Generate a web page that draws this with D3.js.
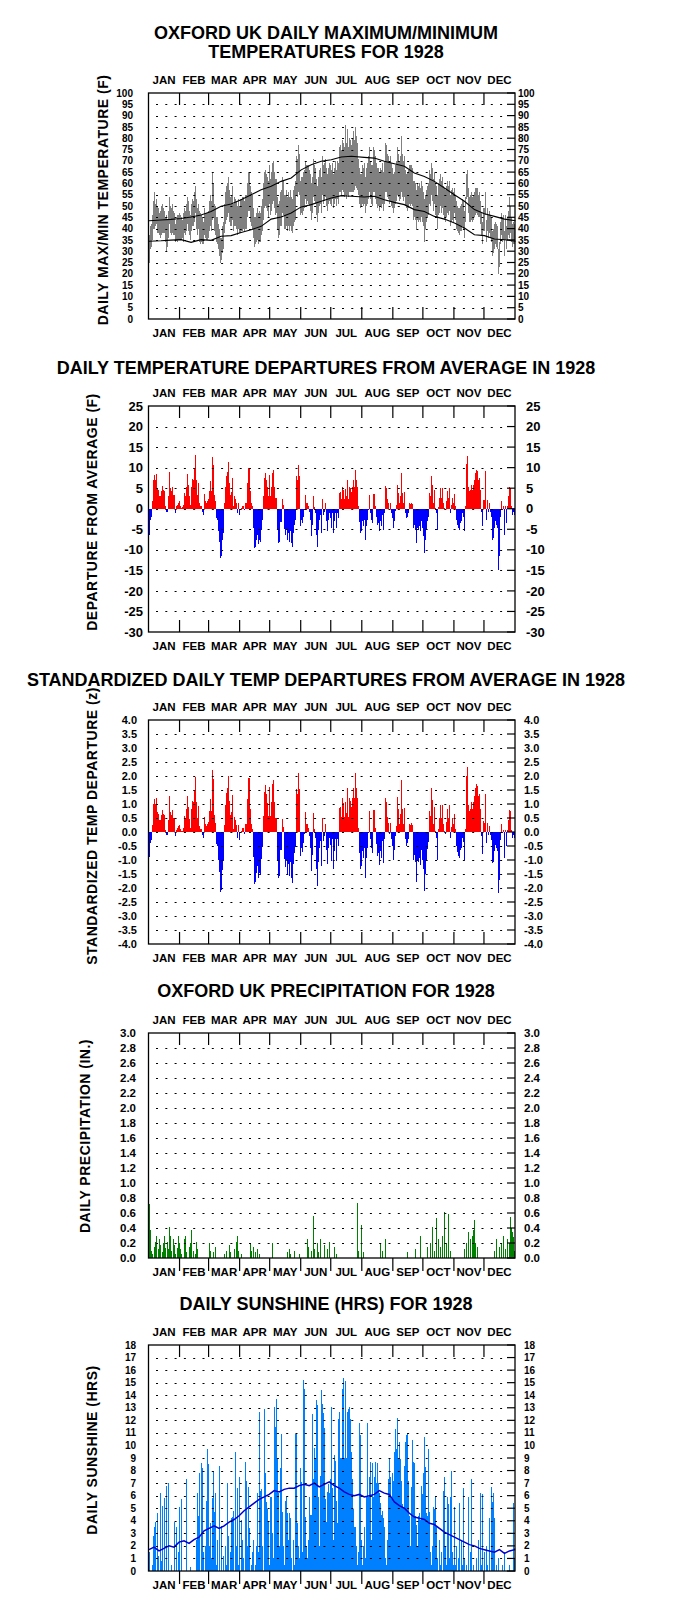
<!DOCTYPE html>
<html>
<head>
<meta charset="utf-8">
<script src="https://cdn.jsdelivr.net/npm/d3@7"></script>
<style>
  body { margin: 0; background: #fff; }
  text { font-family: Arial, "Liberation Sans", sans-serif; font-weight: bold; fill: #000; }
  .bars rect, .bars line { shape-rendering: crispEdges; }
</style>
</head>
<body>
<script>

// ---- data (1928, day 0 = Jan 1) ----
var months = ['JAN','FEB','MAR','APR','MAY','JUN','JUL','AUG','SEP','OCT','NOV','DEC'];
var monthStart = [0,31,60,91,121,152,182,213,244,274,305,335,366];

var tmax = [
 37,41,42,46,52,56,51,53,50,49,47,48,50,51,49,48,45,46,44,48,54,50,49,51,48,47,42,44,46,46,47,
 46,45,44,47,49,48,51,54,52,48,46,51,53,52,56,59,53,49,51,48,47,46,45,43,49,47,47,47,48,
 52,55,52,65,60,51,50,45,45,42,40,36,36,41,43,51,56,59,60,63,57,54,55,59,51,54,53,52,50,53,50,
 53,53,54,54,52,55,55,60,65,65,59,56,55,49,45,45,47,49,47,48,47,50,53,60,65,66,64,63,61,68,
 62,65,69,70,65,62,62,54,51,52,56,57,63,61,55,55,57,54,56,54,57,54,53,57,59,61,72,71,77,73,61,
 63,63,65,66,70,68,68,68,66,64,60,63,71,68,67,62,59,63,66,67,63,72,68,69,71,67,64,67,69,68,
 66,69,64,67,70,66,70,69,76,77,75,79,78,76,86,78,84,76,80,79,77,80,83,79,85,81,78,71,67,64,64,
 68,67,69,63,67,69,72,76,70,68,68,76,75,72,69,67,67,65,67,66,69,65,70,78,77,73,72,70,72,69,67,
 64,65,68,70,76,73,70,72,81,73,70,72,66,64,65,66,68,68,68,67,61,61,60,57,60,59,60,58,61,59,
 56,53,55,57,59,60,66,64,69,67,62,65,60,59,55,60,62,64,61,63,59,58,57,59,61,59,61,55,57,58,56,
 58,55,52,50,49,49,50,51,53,52,48,54,64,66,58,54,55,56,54,55,56,58,58,58,55,56,52,47,43,49,
 49,56,44,49,46,48,46,45,39,40,42,43,42,41,31,34,43,47,45,46,39,46,41,45,48,54,50,45,42,43,42
];
var tmin = [
 25,31,32,35,40,40,41,42,38,38,37,36,37,38,38,38,34,30,32,36,42,38,37,38,37,37,34,35,34,35,35,
 35,35,36,34,38,37,39,42,39,37,35,39,41,41,43,47,40,37,40,34,33,34,33,33,37,36,35,35,36,
 39,41,39,44,45,39,37,34,33,31,28,25,26,29,31,38,42,44,45,47,43,41,41,44,39,41,41,40,37,40,38,
 38,39,39,40,39,40,40,45,48,48,43,41,40,36,32,33,34,35,33,34,34,37,39,44,49,50,49,48,45,51,
 46,48,51,52,49,46,47,40,36,37,41,41,47,46,40,40,41,39,41,39,41,39,38,41,43,44,55,54,56,55,46,
 47,46,48,49,53,51,52,51,50,48,44,47,54,52,51,46,43,47,50,51,47,55,51,52,54,50,48,51,52,51,
 50,53,49,51,53,50,53,51,56,56,55,57,56,54,55,53,55,54,56,56,56,56,56,57,59,58,57,55,51,49,50,
 51,50,51,47,50,51,53,56,53,51,50,56,56,53,51,49,50,48,50,49,51,48,51,56,56,54,53,51,52,50,49,
 47,49,51,52,55,54,52,53,56,54,52,54,50,49,48,49,51,50,51,50,44,45,44,40,44,43,44,43,45,43,
 41,34,40,43,45,46,51,50,55,52,48,51,46,45,40,46,47,50,47,49,46,44,43,45,47,46,48,41,43,44,43,
 47,44,40,39,38,37,39,39,41,40,36,43,53,54,47,43,43,44,43,44,45,46,47,46,45,45,42,37,33,39,
 39,46,34,39,36,38,36,34,28,29,31,33,32,31,20,23,33,37,34,35,28,35,31,35,37,36,38,34,32,33,33
];

// long-term average max / min (black curves)
var normDays = [0,12,22,32,42,52,62,72,82,92,102,112,122,132,142,152,162,172,182,192,202,215,225,235,245,255,265,275,285,295,305,315,325,335,345,355,366];
var normMax  = [43.5,43.8,44.1,44.5,45.1,46.0,47.6,49.9,50.9,52.8,55.0,57.2,58.7,60.9,62.4,66.0,68.3,69.8,70.5,71.7,72.0,71.5,71.2,69.8,68.7,67.6,64.6,63.1,60.9,58.0,55.0,52.1,48.4,46.6,45.4,44.2,43.5];
var normMin  = [34.4,34.6,34.9,35.1,33.9,35.1,34.8,36.6,36.9,38.3,39.5,41.0,44.2,45.1,46.9,49.6,50.6,52.1,53.5,54.6,54.3,54.0,54.3,52.8,51.6,50.6,48.4,47.6,45.4,44.2,42.5,40.3,37.3,36.9,35.4,35.1,34.4];

// daily mean temperature departure from average (F)
var tempDep = [
 -6.3,-2.7,-1.9,1.8,7,8.3,7,8.5,5,4.6,3,3,4.2,5.6,4.6,4.2,0.6,-0.7,-0.7,3,9,5,4.2,5.4,3.4,3.4,-1.1,0.6,1,1.5,1.8,
 0.7,0.2,0.3,1,3.8,3,5.4,8.5,5.8,3,1,5.4,7.3,7,10,13,7,3.4,6.2,1.4,0.7,0.7,-0.7,-1.5,3.6,1.8,1.5,1.8,2.4,
 4.2,6.7,4.2,12.5,10.7,3.4,1.8,-2.3,-2.7,-5.5,-8,-12,-11.6,-7.6,-5.8,1.4,5.4,7.9,8.9,11.3,6.2,3.4,4,7.5,0.6,3,2.4,1.4,-1.1,1.4,-1.5,
 -0.2,0.2,0.7,0.7,-0.4,1.4,1.5,6.2,10,10,4.2,1.4,0.6,-4.7,-9.6,-9.2,-7.6,-6.3,-8.5,-7.6,-8,-5.1,-2.7,3,7.5,8.7,7,5.4,3,8.3,
 3,5.4,8.7,9.5,5.4,2.6,2.6,-5.1,-8.4,-8,-3.3,-3.3,2.4,1,-5,-6.3,-5.1,-7.6,-5.9,-8,-5.5,-8.4,-9.2,-5.9,-3.9,-2.7,7.9,7,10.7,7.9,-4.3,
 -2.7,-3.5,-1.9,-0.4,3.4,1.4,1.4,0.7,-0.7,-2.7,-6.7,-3.9,3.2,0.5,-1.1,-6.3,-9.2,-5.1,-2.7,-1.5,-5.9,2.4,-1.5,-0.7,1.4,-3.1,-5.5,-2.7,-1.1,-2.3,
 -4.7,-1.1,-5.9,-3.1,-1.1,-4.7,-1.1,-2.3,3.8,4,2.4,5.4,4.6,2.4,4.8,3,7,2.4,5.4,5,4,5.4,7,5.4,9.5,7,5.4,0.6,-3.3,-5.9,-5.5,
 -3.1,-4.3,-2.7,-7.6,-4.3,-2.7,-0.2,3.4,-1.1,-2.7,-3.5,3.6,3.6,0.6,-1.9,-3.9,-3.5,-5.5,-3.1,-4.3,-1.5,-5.1,-1.1,5.6,5,2.4,1.4,-0.4,1.4,-1.1,-2.3,
 -4.7,-3.1,-0.6,1,5.8,3.8,1.4,3,8.7,3.8,1.4,4,-1.1,-2.3,-1.9,-1.1,1.4,1.2,1.5,1.1,-4.7,-3.9,-5.1,-8.4,-4.7,-5.1,-4.3,-5.5,-3.1,-4.7,
 -6.7,-10.8,-7.6,-5.1,-3.1,-1.9,3.8,3,8,5.8,1.4,4.6,0.2,-1.1,-5.1,0.5,2.6,5,2.6,5,1.4,0.2,-0.4,1.8,4.2,2.6,5,-1.1,1,2.6,1.4,
 3.6,0.6,-2.7,-3.9,-4.7,-5.1,-3.5,-3.1,-1.1,-1.9,-5.5,0.6,11,12.8,5.4,4.2,4.6,5.8,4.6,5.8,7,8.7,9.5,9.1,7,7.5,4.6,-0.7,-4.3,2.2,
 2.2,9.3,-2.7,2.2,-0.7,1.4,-0.7,-1.9,-7.6,-7.2,-4.7,-3.1,-3.9,-4.7,-14.9,-11.6,-1.9,2,-0.2,0.6,-6.3,0.6,-3.5,0.6,3,5.4,5,0.6,-1.5,-0.7,-1.5
];
// standard deviation of daily departures by month, used for the z panel
var depSD = [7.0,6.6,5.6,5.2,5.1,4.8,4.5,4.6,4.7,5.1,5.5,6.8];

// precipitation (in.), only wet days listed
var precipDays = [0,1,2,3,5,6,7,9,10,11,13,14,15,16,18,19,20,21,22,24,25,26,28,29,30,
 31,32,35,36,37,40,41,42,44,46,47,48,
 60,61,64,66,75,77,80,81,85,87,88,89,92,
 101,102,104,106,108,110,123,138,140,141,145,150,
 158,159,162,164,165,168,169,171,175,178,180,185,187,
 208,209,212,214,231,233,236,258,266,271,
 278,281,283,285,287,289,291,293,295,297,299,301,
 315,317,319,321,323,324,325,326,328,
 345,347,350,352,354,356,358,360,361,362,363,364,365];
var precipVals = [0.72,0.38,0.1,0.05,0.15,0.22,0.3,0.12,0.25,0.18,0.08,0.2,0.3,0.14,0.22,0.12,0.42,0.3,0.1,0.25,0.18,0.05,0.14,0.3,0.2,
 0.12,0.05,0.25,0.3,0.08,0.15,0.2,0.38,0.1,0.05,0.22,0.12,
 0.2,0.1,0.08,0.15,0.05,0.1,0.18,0.08,0.12,0.22,0.3,0.1,0.05,
 0.2,0.1,0.15,0.08,0.12,0.05,0.2,0.08,0.12,0.05,0.1,0.06,
 0.25,0.15,0.1,0.56,0.12,0.2,0.08,0.25,0.18,0.12,0.22,0.15,0.05,
 0.74,0.1,0.44,0.08,0.2,0.1,0.25,0.08,0.12,0.3,
 0.15,0.2,0.42,0.1,0.53,0.25,0.15,0.3,0.61,0.2,0.59,0.1,
 0.12,0.2,0.35,0.25,0.3,0.38,0.51,0.2,0.15,
 0.1,0.25,0.15,0.2,0.3,0.12,0.25,0.2,0.55,0.4,0.35,0.28,0.1];

// daily sunshine (hrs)
var sunHrs = [
 1.5,0,0,0.5,2.8,3.5,3.9,0,4.6,1.2,0,6.2,0.8,5.2,0,5.8,0,6.8,0,7.0,0,0,0.5,0,0,3.9,0,3.5,0,1.5,5.1,
 0,5.7,0,0,0,0,7.3,0,0,0,0.3,0,0,0,0,0,2.5,6.2,4.4,7.8,0,8.6,8.2,1.5,0,2.0,5.6,9.7,8.5,
 2.0,3.8,1.0,5.8,8.0,4.7,6.2,0.5,2.5,0,8.4,0,3.6,0,1.2,0,2.0,0.5,7.0,2.8,0,1.5,4.2,4.3,4.8,0,9.5,2.0,6.6,0.5,7.5,
 0,4.1,2.5,1.0,0,8.7,7.2,2.0,6.7,3.4,0,0.5,1.5,2.5,0,0.5,2.0,6.2,1.5,12.7,6.4,6.5,2.0,0,12.9,7.8,5.5,4.9,4.0,0.5,
 5.9,5.9,3.0,1.0,13.1,11.5,13.7,9.0,6.2,2.0,8.2,10.9,4.7,2.0,0.5,5.6,5.9,4.6,2.5,4.6,4.2,1.0,0,2.5,0.5,10.9,10.9,3.8,2.0,1.0,8.2,
 7.1,1.5,15.2,14.5,4.3,2.0,1.0,2.5,5.9,4.5,4.5,12.5,7.3,9.8,9.0,13.6,13.2,5.9,2.0,7.6,14.4,13.3,12.6,11.4,5.7,3.9,6.3,6.9,6.2,7.3,
 13.1,6.6,2.5,9.2,8.8,5.6,3.8,12.1,12.7,9.0,9.0,14.5,15.4,9.0,15.1,9.0,12.7,12.9,13.1,12.1,9.5,7.3,4.9,3.5,3.5,2.0,0.5,1.5,11.8,10.8,2.5,
 0.5,2.0,3.5,1.0,5.9,11.8,5.9,7.5,8.7,2.5,8.6,5.9,7.5,8.7,7.0,8.6,7.0,6.2,5.4,4.5,4.8,4.2,3.5,1.0,0.5,2.5,7.3,8.9,7.5,5.7,7.8,
 7.2,9.5,11.3,9.7,12.2,9.0,10.3,8.9,7.2,5.3,5.0,8.4,10.3,10.8,11.0,7.2,4.4,2.0,6.7,10.4,8.7,8.6,4.4,3.7,2.0,4.4,4.6,4.1,6.8,6.1,
 7.8,10.7,8.3,4.6,4.4,9.7,4.7,1.5,0.5,2.0,5.1,4.9,5.9,3.5,1.0,0,2.5,0.5,1.5,0,6.4,7.5,2.0,0.5,5.9,5.3,1.0,5.9,8.0,1.5,0.5,
 5.1,0.5,2.0,0,1.0,5.4,0,2.5,0.5,6.6,1.0,0,0.5,0,5.9,0,1.5,7.3,0,0.5,0,0,1.0,0,2.5,0,6.2,0.5,6.1,0,
 1.5,0,2.0,0.5,0,4.2,0,6.7,5.5,6.2,4.2,0,0.5,0,1.0,0,0,0,0.5,0,1.5,0,0,0,0,0.5,0,0,0,5.4,1.0
];
// average sunshine (blue line), every 5 days
var sunAvgDays = d3.range(0, 366, 5).concat([365]);
var sunAvg = [1.7,1.9,1.6,1.8,2.0,1.9,2.3,2.4,2.2,2.5,2.7,3.2,3.4,3.6,3.4,3.6,3.9,4.1,4.4,4.8,5.1,5.4,5.7,5.9,6.1,6.4,6.3,6.5,6.6,6.6,
 6.8,6.9,6.8,7.0,6.7,6.9,7.1,6.8,6.6,6.3,6.1,6.0,6.1,5.9,6.0,6.1,6.4,6.2,6.1,5.5,5.2,5.0,4.6,4.3,4.2,4.1,3.8,3.7,3.4,3.1,
 2.9,2.7,2.5,2.3,2.1,2.0,1.8,1.7,1.6,1.5,1.7,1.4,1.6,1.7,1.8];

// ---- layout ----
var W = 678, H = 1622;
var svg = d3.select('body').append('svg').attr('width', W).attr('height', H);
var x = d3.scaleLinear().domain([0, 366]).range([148.5, 515]);
var L = 148.5, R = 515, TITLE_X = 326;

function fmt(v, dec) { return dec ? v.toFixed(dec) : String(Math.round(v)); }

var drawPanel = function(p) {
    var y = d3.scaleLinear().domain([p.lo, p.hi]).range([p.bottom, p.top]);
    var marks = svg.append('g').attr('class', 'bars');
    var g = svg.append('g');

    p.titles.forEach(function(t, i) {
        g.append('text').attr('x', TITLE_X).attr('y', p.titleY + i * 18.5)
          .attr('text-anchor', 'middle').style('font-size', '18px').text(t);
    });

    g.append('text')
      .attr('transform', 'translate(' + p.ytX + ',' + p.ytY + ') rotate(-90)')
      .attr('text-anchor', 'middle').style('font-size', '14px').style('letter-spacing', '0.5px')
      .text(p.ytitle);

    // month names top and bottom
    [p.top - 9, p.bottom + 18].forEach(function(yy) {
        g.selectAll(null).data(months).enter().append('text')
          .attr('x', function(d, i) { return x((monthStart[i] + monthStart[i + 1]) / 2); })
          .attr('y', yy).attr('text-anchor', 'middle').style('font-size', '11.5px')
          .text(function(d) { return d; });
    });

    var n = Math.round((p.hi - p.lo) / p.step);
    var ticks = d3.range(n + 1).map(function(i) { return p.lo + i * p.step; });

    // dotted grid + right inner ticks
    g.selectAll(null).data(ticks.slice(1, -1)).enter().append('line')
      .attr('x1', 156).attr('x2', 506)
      .attr('y1', function(d) { return Math.round(y(d)) + 0.5; })
      .attr('y2', function(d) { return Math.round(y(d)) + 0.5; })
      .attr('stroke', '#000').attr('stroke-width', 1).attr('stroke-dasharray', '2,7.3');
    g.selectAll(null).data(ticks).enter().append('line')
      .attr('x1', 507).attr('x2', R)
      .attr('y1', function(d) { return y(d); }).attr('y2', function(d) { return y(d); })
      .attr('stroke', '#000').attr('stroke-width', 1.2);

    // month ticks
    var inner = monthStart.slice(1, -1);
    g.selectAll(null).data(inner).enter().append('line')
      .attr('x1', function(d) { return x(d); }).attr('x2', function(d) { return x(d); })
      .attr('y1', p.top).attr('y2', p.top + 12)
      .attr('stroke', '#000').attr('stroke-width', 1.2);
    g.selectAll(null).data(inner).enter().append('line')
      .attr('x1', function(d) { return x(d); }).attr('x2', function(d) { return x(d); })
      .attr('y1', p.bottom).attr('y2', p.outTicks ? p.bottom + 13 : p.bottom - 12)
      .attr('stroke', '#000').attr('stroke-width', 1.2);

    g.append('rect').attr('x', L).attr('y', p.top).attr('width', R - L).attr('height', p.bottom - p.top)
      .attr('fill', 'none').attr('stroke', '#000').attr('stroke-width', 1.3);

    // value labels both sides
    g.selectAll(null).data(ticks).enter().append('text')
      .attr('x', p.labL).attr('y', function(d) { return y(d); }).attr('dy', '0.36em')
      .attr('text-anchor', 'end').style('font-size', p.fs + 'px')
      .text(function(d) { return fmt(d, p.dec); });
    g.selectAll(null).data(ticks).enter().append('text')
      .attr('x', p.labR).attr('y', function(d) { return y(d); }).attr('dy', '0.36em')
      .attr('text-anchor', 'start').style('font-size', p.fs + 'px')
      .text(function(d) { return fmt(d, p.dec); });

    return { y: y, marks: marks };
};

var days = d3.range(366);
var dayW = x(1) - x(0);

// ---- panel 1: max/min ----
var p1 = drawPanel({ top: 93, bottom: 319, lo: 0, hi: 100, step: 5, dec: 0, fs: 10, labL: 133, labR: 518,
    titles: ['OXFORD UK DAILY MAXIMUM/MINIMUM', 'TEMPERATURES FOR 1928'], titleY: 39,
    ytitle: 'DAILY MAX/MIN TEMPERATURE (F)', ytX: 108, ytY: 200 });
p1.marks.selectAll('rect').data(days).enter().append('rect')
  .attr('x', function(d) { return x(d); }).attr('width', dayW)
  .attr('y', function(d) { return p1.y(tmax[d]); })
  .attr('height', function(d) { return p1.y(tmin[d]) - p1.y(tmax[d]); })
  .attr('fill', '#808080');
[normMax, normMin].forEach(function(arr) {
    p1.marks.append('path')
      .attr('d', d3.line().x(function(d, i) { return x(normDays[i] + 0.5); }).y(function(d) { return p1.y(d); })(arr))
      .attr('fill', 'none').attr('stroke', '#000').attr('stroke-width', 1.1);
});

// ---- panel 2: departures ----
var p2 = drawPanel({ top: 406, bottom: 632, lo: -30, hi: 25, step: 5, dec: 0, fs: 13, labL: 143, labR: 526,
    titles: ['DAILY TEMPERATURE DEPARTURES FROM AVERAGE IN 1928'], titleY: 374,
    ytitle: 'DEPARTURE FROM AVERAGE (F)', ytX: 97, ytY: 512 });
p2.marks.selectAll('rect').data(days).enter().append('rect')
  .attr('x', function(d) { return x(d); }).attr('width', dayW)
  .attr('y', function(d) { return Math.min(p2.y(0), p2.y(tempDep[d])); })
  .attr('height', function(d) { return Math.abs(p2.y(tempDep[d]) - p2.y(0)); })
  .attr('fill', function(d) { return tempDep[d] >= 0 ? '#ff0000' : '#0000ff'; });

// ---- panel 3: standardized departures ----
var monthOf = function(d) { return d3.bisectRight(monthStart, d) - 1; };
var zDep = days.map(function(d) { return tempDep[d] / depSD[monthOf(d)]; });
var p3 = drawPanel({ top: 720, bottom: 944, lo: -4, hi: 4, step: 0.5, dec: 1, fs: 11, labL: 137, labR: 524,
    titles: ['STANDARDIZED DAILY TEMP DEPARTURES FROM AVERAGE IN 1928'], titleY: 686,
    ytitle: 'STANDARDIZED TEMP DEPARTURE (z)', ytX: 97, ytY: 826 });
p3.marks.selectAll('rect').data(days).enter().append('rect')
  .attr('x', function(d) { return x(d); }).attr('width', dayW)
  .attr('y', function(d) { return Math.min(p3.y(0), p3.y(zDep[d])); })
  .attr('height', function(d) { return Math.abs(p3.y(zDep[d]) - p3.y(0)); })
  .attr('fill', function(d) { return zDep[d] >= 0 ? '#ff0000' : '#0000ff'; });

// ---- panel 4: precipitation ----
var p4 = drawPanel({ top: 1033, bottom: 1258, lo: 0, hi: 3, step: 0.2, dec: 1, fs: 11.5, labL: 136, labR: 524, outTicks: true,
    titles: ['OXFORD UK PRECIPITATION FOR 1928'], titleY: 997,
    ytitle: 'DAILY PRECIPITATION (IN.)', ytX: 90, ytY: 1136 });
p4.marks.selectAll('line').data(precipDays).enter().append('line')
  .attr('x1', function(d) { return x(d + 0.5); }).attr('x2', function(d) { return x(d + 0.5); })
  .attr('y1', p4.y(0)).attr('y2', function(d, i) { return p4.y(precipVals[i]); })
  .attr('stroke', '#008000').attr('stroke-width', 1);

// ---- panel 5: sunshine ----
var p5 = drawPanel({ top: 1345, bottom: 1571, lo: 0, hi: 18, step: 1, dec: 0, fs: 10, labL: 136, labR: 524, outTicks: true,
    titles: ['DAILY SUNSHINE (HRS) FOR 1928'], titleY: 1310,
    ytitle: 'DAILY SUNSHINE (HRS)', ytX: 97, ytY: 1450 });
p5.marks.selectAll('rect').data(days).enter().append('rect')
  .attr('x', function(d) { return x(d); }).attr('width', dayW)
  .attr('y', function(d) { return p5.y(sunHrs[d]); })
  .attr('height', function(d) { return p5.y(0) - p5.y(sunHrs[d]); })
  .attr('fill', '#0080ff');
p5.marks.append('path')
  .attr('d', d3.line().x(function(d, i) { return x(sunAvgDays[i] + 0.5); }).y(function(d) { return p5.y(d); })(sunAvg))
  .attr('fill', 'none').attr('stroke', '#0000cc').attr('stroke-width', 1.5);

</script>
</body>
</html>
